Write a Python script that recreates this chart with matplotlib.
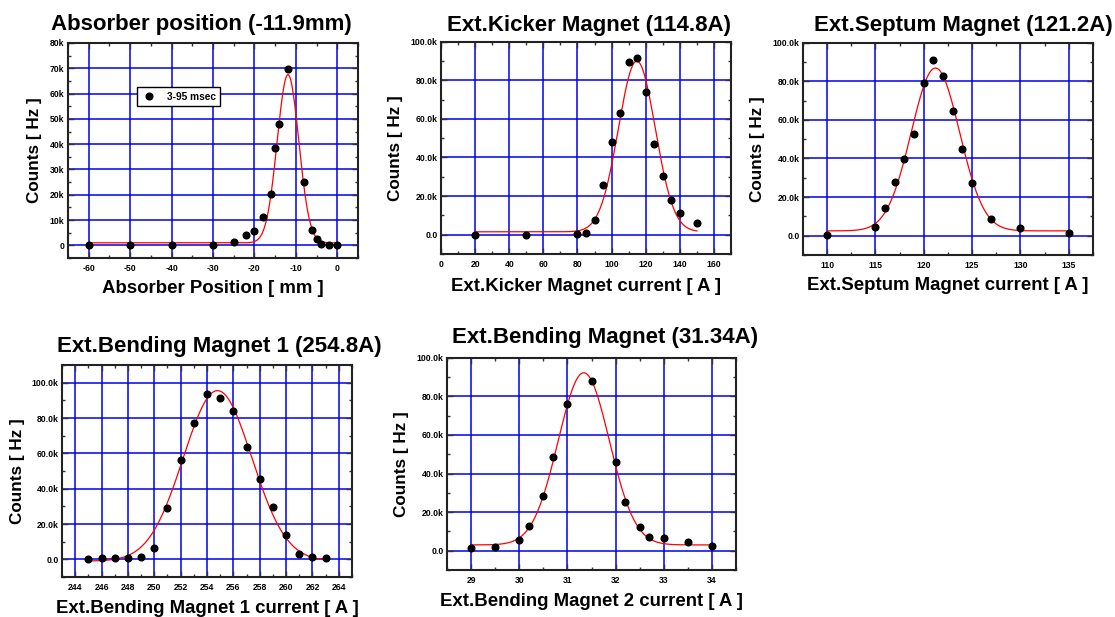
import numpy as np
import matplotlib
matplotlib.use("Agg")
import matplotlib.pyplot as plt
from matplotlib.ticker import MultipleLocator, FuncFormatter

plt.rcParams['font.family'] = ['Liberation Sans', 'DejaVu Sans']
plt.rcParams['font.weight'] = 'bold'

# absorber scan
absorber_x = [-60, -50, -40, -30, -25, -22, -20, -18, -16, -15, -14, -12, -8, -6, -5, -4, -2, 0]
absorber_y = [0.1, 0.1, 0.1, 0.1, 1.3, 3.9, 5.7, 11.3, 20.4, 38.5, 47.9, 69.6, 25.0, 6.1, 2.5, 0.7, 0.2, 0.1]

# extraction kicker scan
kicker_x = [20, 50, 80, 85, 90, 95, 100, 105, 110, 115, 120, 125, 130, 135, 140, 150]
kicker_y = [0.0, 0.0, 0.3, 0.9, 7.4, 25.9, 48.1, 63.1, 89.3, 91.6, 73.8, 46.9, 30.5, 17.8, 11.4, 5.9]

# extraction septum scan
septum_x = [110, 115, 116, 117, 118, 119, 120, 121, 122, 123, 124, 125, 127, 130, 135]
septum_y = [0.3, 4.5, 14.1, 27.9, 39.5, 52.9, 79.0, 90.9, 82.9, 64.7, 44.7, 27.2, 8.8, 4.0, 1.6]

# bending magnet 1 scan
bend1_x = [245, 246, 247, 248, 249, 250, 251, 252, 253, 254, 255, 256, 257, 258, 259, 260, 261, 262, 263]
bend1_y = [0.4, 0.6, 0.8, 0.9, 1.5, 6.2, 29.0, 56.1, 77.4, 93.4, 91.3, 84.0, 63.8, 45.2, 29.8, 13.7, 2.8, 1.3, 0.9]

# bending magnet 2 scan
bend2_x = [29, 29.5, 30, 30.2, 30.5, 30.7, 31, 31.5, 32, 32.2, 32.5, 32.7, 33, 33.5, 34]
bend2_y = [1.2, 1.9, 5.7, 12.6, 28.3, 48.6, 76.2, 87.9, 45.9, 25.3, 12.1, 7.2, 6.4, 4.7, 2.2]

# gaussian fit results (kHz): centre, sigma, amplitude, offset
fit_center = [-11.9, 114.8, 121.2, 254.8, 31.34]
fit_sigma = [2.6, 10.8, 2.5, 2.6, 0.53]
fit_amp = [66.5, 88.5, 84.4, 96.5, 89.2]
fit_base = [1.0, 1.5, 2.5, -1.0, 3.0]

titles = ["Absorber position (-11.9mm)", "Ext.Kicker Magnet (114.8A)",
          "Ext.Septum Magnet (121.2A)", "Ext.Bending Magnet 1 (254.8A)",
          "Ext.Bending Magnet (31.34A)"]
xlabels = ["Absorber Position [ mm ]", "Ext.Kicker Magnet current [ A ]",
           "Ext.Septum Magnet current [ A ]", "Ext.Bending Magnet 1 current [ A ]",
           "Ext.Bending Magnet 2 current [ A ]"]

W, H = 1115, 617
# pixel boxes: left, right, top, bottom
boxes = [(68, 358, 43, 258), (441, 731, 41.7, 254), (803, 1093, 42.7, 255),
         (62, 352, 365, 577), (447, 736, 357.7, 570)]
xlims = [(-65, 5), (0, 170), (107.5, 137.5), (243, 265), (28.5, 34.5)]
ylims = [(-5, 80), (-10, 100), (-10, 100), (-10, 110), (-10, 100)]
xmaj = [10, 20, 5, 2, 1]
xmin = [5, 10, 2.5, 1, 0.5]
ymaj = [10, 20, 20, 20, 20]
ymin = [5, 10, 10, 10, 10]
title_x = [0.459, 0.512, 0.552, 0.541, 0.547]
title_dy = [18, 16, 17.5, 18.5, 20]
ylab_x = [-0.09, -0.131, -0.131, -0.128, -0.131]
xlab_y = [-0.102, -0.113, -0.104, -0.108, -0.108]

datasets = [(absorber_x, absorber_y), (kicker_x, kicker_y), (septum_x, septum_y),
            (bend1_x, bend1_y), (bend2_x, bend2_y)]

fig = plt.figure(figsize=(W / 100, H / 100), dpi=100)

for i, (xs, ys) in enumerate(datasets):
    l, r, t, b = boxes[i]
    ax = fig.add_axes([l / W, (H - b) / H, (r - l) / W, (b - t) / H])
    ax.set_xlim(*xlims[i])
    ax.set_ylim(*ylims[i])

    ax.xaxis.set_major_locator(MultipleLocator(xmaj[i]))
    ax.xaxis.set_minor_locator(MultipleLocator(xmin[i]))
    ax.yaxis.set_major_locator(MultipleLocator(ymaj[i]))
    ax.yaxis.set_minor_locator(MultipleLocator(ymin[i]))
    if i == 0:
        ax.yaxis.set_major_formatter(FuncFormatter(lambda v, p: "0" if abs(v) < 1e-9 else f"{v:.0f}k"))
    else:
        ax.yaxis.set_major_formatter(FuncFormatter(lambda v, p: "0.0" if abs(v) < 1e-9 else f"{v:.1f}k"))
    ax.xaxis.set_major_formatter(FuncFormatter(lambda v, p: f"{v:g}"))

    ax.grid(True, which='major', color='#0000ee', lw=1.1)
    ax.set_axisbelow(True)
    ax.tick_params(which='both', direction='in', top=True, right=True,
                   labelsize=6.2, color='#333333')
    ax.tick_params(axis='y', pad=2.5)
    ax.tick_params(axis='x', pad=4)
    ax.tick_params(which='major', length=4, width=1)
    ax.tick_params(which='minor', length=2.5, width=1)
    for s in ax.spines.values():
        s.set_linewidth(1.5)
        s.set_color('#222222')
    for lab in ax.get_xticklabels() + ax.get_yticklabels():
        lab.set_fontweight('bold')

    # fitted gaussian
    xf = np.linspace(min(xs), max(xs), 400)
    yf = fit_base[i] + fit_amp[i] * np.exp(-(xf - fit_center[i]) ** 2 / (2 * fit_sigma[i] ** 2))
    ax.plot(xf, yf, color='#ff0000', lw=0.9, zorder=3)
    pts, = ax.plot(xs, ys, 'o', color='black', ms=4.8, zorder=4, label="3-95 msec")

    ax.text(title_x[i], 1 + title_dy[i] / (b - t), titles[i], transform=ax.transAxes,
            ha='center', va='center', fontsize=16, fontweight='bold')
    ax.set_xlabel(xlabels[i], fontsize=13.4, fontweight='bold')
    ax.xaxis.set_label_coords(0.5, xlab_y[i])
    ax.set_ylabel("Counts [ Hz ]", fontsize=12.3, fontweight='bold')
    ax.yaxis.set_label_coords(ylab_x[i], 0.5)

    if i == 0:
        ax.legend(handles=[pts], loc='upper left', bbox_to_anchor=(0.238, 0.795),
                  frameon=True, fancybox=False, edgecolor='black',
                  framealpha=1, borderpad=0.45, handletextpad=1.0, handlelength=1.5,
                  borderaxespad=0, prop={'weight': 'bold', 'size': 7.3})

fig.savefig("out.png", dpi=100)
